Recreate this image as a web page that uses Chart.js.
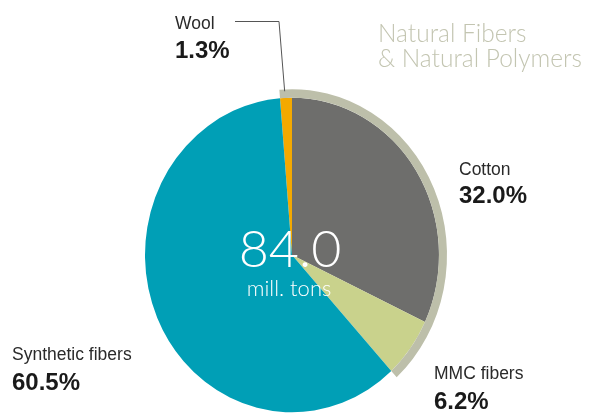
<!DOCTYPE html>
<html>
<head>
<meta charset="utf-8">
<script src="https://cdn.jsdelivr.net/npm/chart.js@4/dist/chart.umd.min.js"></script>
<style>
  html, body { margin: 0; padding: 0; background: #ffffff; }
  #wrap { width: 589px; height: 414px; position: relative; }
</style>
</head>
<body>
<div id="wrap"><canvas id="c"></canvas></div>
<script>
// ---- data ----
const categories = ['Wool', 'Cotton', 'MMC fibers', 'Synthetic fibers'];
const shares = [1.3, 32.0, 6.2, 60.5];
const sliceColors = ['#f4a900', '#6e6e6c', '#c9d28c', '#009fb6'];
const groupLabels = ['Natural Fibers', '& Natural Polymers'];
const groupShares = [39.5, 60.5];
const groupColors = ['#bdbfaa', 'rgba(0,0,0,0)'];
const totalValue = '84.0';
const totalUnit = 'mill. tons';

const SCALE_Y = 1.07;

const stretchPlugin = {
  id: 'stretch',
  beforeDatasetsDraw(chart) {
    const ctx = chart.ctx;
    const m = chart.getDatasetMeta(1).data[0];
    ctx.save();
    ctx.translate(m.x, m.y);
    ctx.scale(1, SCALE_Y);
    ctx.translate(-m.x, -m.y);
  },
  afterDatasetsDraw(chart) {
    chart.ctx.restore();
  }
};

const labelPlugin = {
  id: 'labels',
  afterDraw(chart) {
    const ctx = chart.ctx;
    const metaIn = chart.getDatasetMeta(1);
    const metaOut = chart.getDatasetMeta(0);
    const cx = metaIn.data[0].x, cy = metaIn.data[0].y;
    ctx.save();
    ctx.textBaseline = 'alphabetic';
    const lab = "17.5px 'Liberation Sans', Arial, sans-serif";
    const pct = "bold 24px 'Liberation Sans', Arial, sans-serif";
    const pos = [
      [175, 29, 58],   // Wool
      [459, 175, 203], // Cotton
      [434, 379, 409], // MMC
      [12, 360, 390]   // Synthetic
    ];
    categories.forEach((c, i) => {
      const [x, y1, y2] = pos[i];
      ctx.textAlign = 'left';
      ctx.fillStyle = '#2a2a2a';
      ctx.font = lab;
      ctx.fillText(c, x, y1);
      ctx.fillStyle = '#1a1a1a';
      ctx.font = pct;
      ctx.fillText(shares[i].toFixed(1) + '%', x, y2);
    });
    // group title
    ctx.fillStyle = '#c3c5b1';
    ctx.font = "300 24.5px Lato, 'Liberation Sans', sans-serif";
    ctx.fillText(groupLabels[0], 378, 42);
    ctx.fillText(groupLabels[1], 378, 67);
    // center total
    ctx.fillStyle = '#ffffff';
    ctx.textAlign = 'center';
    ctx.font = "300 52px Lato, 'Liberation Sans', sans-serif";
    ctx.fillText(totalValue, 290, 267);
    ctx.font = "300 22px Lato, 'Liberation Sans', sans-serif";
    ctx.fillText(totalUnit, 289, 296);
    // wool leader line
    const w = metaIn.data[0];
    const r = metaOut.data[0].outerRadius;
    const a = (w.startAngle + w.endAngle) / 2;
    const ex = cx + Math.cos(a) * r - 1;
    const ey = cy + Math.sin(a) * r * SCALE_Y + 2;
    ctx.strokeStyle = '#555555';
    ctx.lineWidth = 1;
    ctx.beginPath();
    ctx.moveTo(235, 21.5);
    ctx.lineTo(279, 21.5);
    ctx.lineTo(ex, ey);
    ctx.stroke();
    ctx.restore();
  }
};

new Chart(document.getElementById('c'), {
  type: 'pie',
  data: {
    labels: categories,
    datasets: [
      {
        data: groupShares,
        backgroundColor: groupColors,
        borderWidth: 0,
        weight: 8
      },
      {
        data: shares,
        backgroundColor: sliceColors,
        borderWidth: 0,
        weight: 147
      }
    ]
  },
  options: {
    responsive: true,
    maintainAspectRatio: false,
    animation: false,
    events: [],
    rotation: -shares[0] * 3.6,
    layout: { padding: { left: 137, right: 142, top: 100, bottom: 4 } },
    elements: { arc: { offset: 0, hoverOffset: 0, borderWidth: 0 } },
    plugins: {
      legend: { display: false },
      tooltip: { enabled: false }
    }
  },
  plugins: [stretchPlugin, labelPlugin]
});
</script>
</body>
</html>
